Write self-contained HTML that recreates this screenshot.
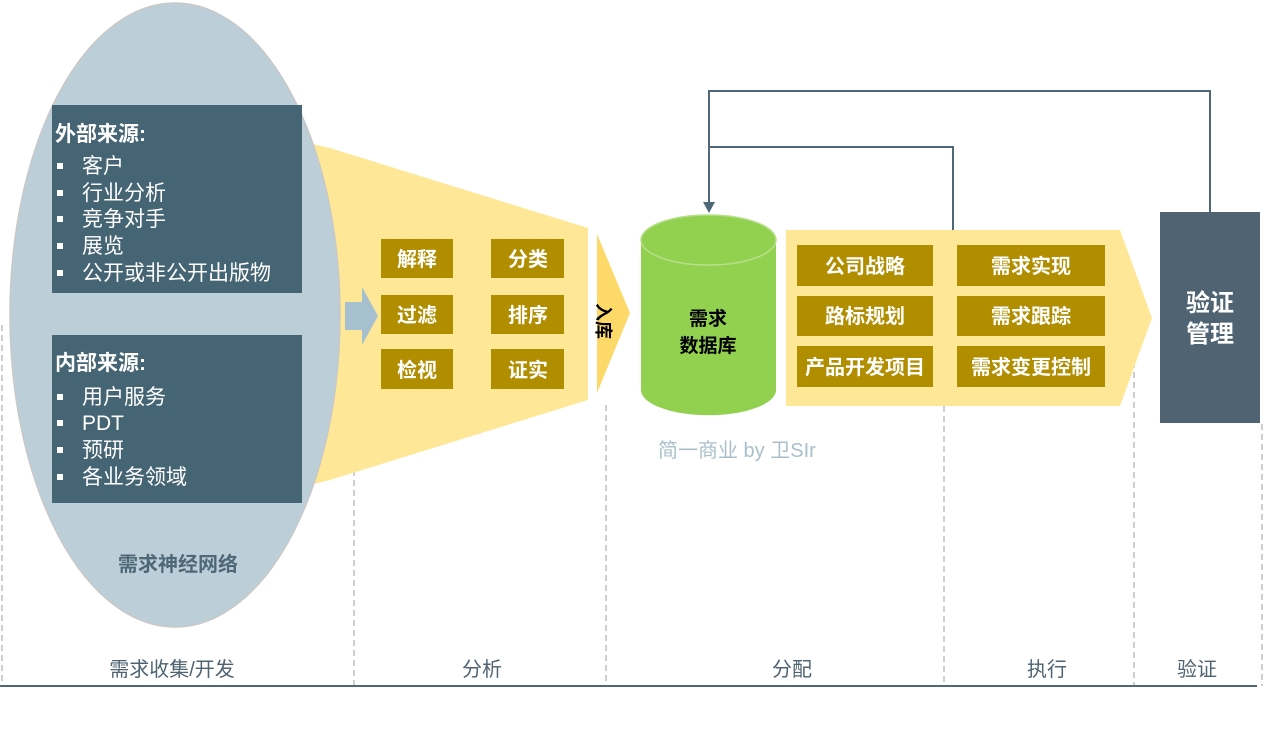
<!DOCTYPE html>
<html><head><meta charset="utf-8"><style>
body{margin:0;background:#fff;width:1280px;height:726px;overflow:hidden}
svg text{font-family:"Liberation Sans","Noto Sans CJK SC",sans-serif}
</style></head><body>
<svg width="1280" height="726" viewBox="0 0 1280 726" xmlns="http://www.w3.org/2000/svg">
<g stroke="#bdbdbd" stroke-width="1.5" stroke-dasharray="6,4">
<line x1="2" y1="325" x2="2" y2="686"/>
<line x1="354" y1="330" x2="354" y2="686"/>
<line x1="606" y1="405" x2="606" y2="686"/>
<line x1="944" y1="406" x2="944" y2="686"/>
<line x1="1134" y1="362" x2="1134" y2="686"/>
<line x1="1262" y1="424" x2="1262" y2="686"/>
</g>
<polygon points="250,130 330,148 588,228 588,400 330,480 250,500" fill="#fee797"/>
<ellipse cx="175" cy="315" rx="165" ry="312" fill="#bccfd9" stroke="#c8c8c8" stroke-width="1.5"/>
<rect x="52" y="105" width="250" height="188" fill="#456474"/>
<rect x="52" y="335" width="250" height="168" fill="#456474"/>
<g fill="#fff" font-size="21">
<text x="55" y="141" font-weight="bold">外部来源:</text>
<text x="82" y="173">客户</text><text x="82" y="200">行业分析</text><text x="82" y="226">竞争对手</text><text x="82" y="253">展览</text><text x="82" y="280">公开或非公开出版物</text>
<text x="55" y="370" font-weight="bold">内部来源:</text>
<text x="82" y="404">用户服务</text><text x="82" y="430">PDT</text><text x="82" y="457">预研</text><text x="82" y="484">各业务领域</text>
</g>
<g fill="#fff"><rect x="57" y="163" width="6" height="6"/><rect x="57" y="190" width="6" height="6"/><rect x="57" y="216" width="6" height="6"/><rect x="57" y="243" width="6" height="6"/><rect x="57" y="270" width="6" height="6"/>
<rect x="57" y="394" width="6" height="6"/><rect x="57" y="420" width="6" height="6"/><rect x="57" y="447" width="6" height="6"/><rect x="57" y="474" width="6" height="6"/></g>
<text x="178" y="571" font-size="20" font-weight="bold" fill="#4f6877" text-anchor="middle">需求神经网络</text>
<polygon points="345,302 362,302 362,287 378,316 362,345 362,330 345,330" fill="#a6c0cf"/>
<g fill="#b18e00"><rect x="381" y="239" width="72" height="39"/><rect x="491" y="239" width="73" height="39"/>
<rect x="381" y="295" width="72" height="39"/><rect x="491" y="295" width="73" height="39"/>
<rect x="381" y="349" width="72" height="40"/><rect x="491" y="349" width="73" height="40"/></g>
<g fill="#fff" font-size="20" font-weight="bold" text-anchor="middle">
<text x="417" y="266">解释</text><text x="528" y="266">分类</text>
<text x="417" y="322">过滤</text><text x="528" y="322">排序</text>
<text x="417" y="377">检视</text><text x="528" y="377">证实</text></g>
<polygon points="597,234 630,313 597,393" fill="#fdd96a"/>
<text x="0" y="0" font-size="18" font-weight="bold" fill="#000" transform="translate(597,303) rotate(90)">入库</text>
<path d="M641,240 L641,390 A67,25 0 0 0 776,390 L776,240 Z" fill="#92d050"/>
<ellipse cx="708.5" cy="240" rx="67.5" ry="25" fill="#92d050" stroke="#b7e08a" stroke-width="1.5"/>
<text x="708" y="325" font-size="19" font-weight="bold" text-anchor="middle" fill="#000">需求</text>
<text x="708" y="352" font-size="19" font-weight="bold" text-anchor="middle" fill="#000">数据库</text>
<polyline points="1210,212 1210,91 709,91 709,205" fill="none" stroke="#4f6877" stroke-width="2"/>
<polygon points="703,202 715,202 709,213" fill="#4f6877"/>
<polyline points="953,230 953,147 709,147" fill="none" stroke="#4f6877" stroke-width="2"/>
<polygon points="786,230 1120,230 1152,318 1120,406 786,406" fill="#fee797"/>
<g fill="#b18e00"><rect x="797" y="245" width="136" height="41"/><rect x="957" y="245" width="148" height="41"/>
<rect x="797" y="296" width="136" height="40"/><rect x="957" y="296" width="148" height="40"/>
<rect x="797" y="346" width="136" height="41"/><rect x="957" y="346" width="148" height="41"/></g>
<g fill="#fff" font-size="20" font-weight="bold" text-anchor="middle">
<text x="865" y="273">公司战略</text><text x="1031" y="273">需求实现</text>
<text x="865" y="323">路标规划</text><text x="1031" y="323">需求跟踪</text>
<text x="865" y="374">产品开发项目</text><text x="1031" y="374">需求变更控制</text></g>
<rect x="1160" y="212" width="100" height="211" fill="#4f6372"/>
<text x="1210" y="311" font-size="24" font-weight="bold" fill="#fff" text-anchor="middle">验证</text>
<text x="1210" y="342" font-size="24" font-weight="bold" fill="#fff" text-anchor="middle">管理</text>
<text x="658" y="457" font-size="20" fill="#a8bfcc">简一商业 by 卫SIr</text>
<line x1="0" y1="686" x2="1257" y2="686" stroke="#4f6877" stroke-width="2"/>
<g font-size="20" fill="#4f6372" text-anchor="middle">
<text x="172" y="676">需求收集/开发</text><text x="482" y="676">分析</text><text x="792" y="676">分配</text><text x="1047" y="676">执行</text><text x="1197" y="676">验证</text></g>
</svg>
</body></html>
